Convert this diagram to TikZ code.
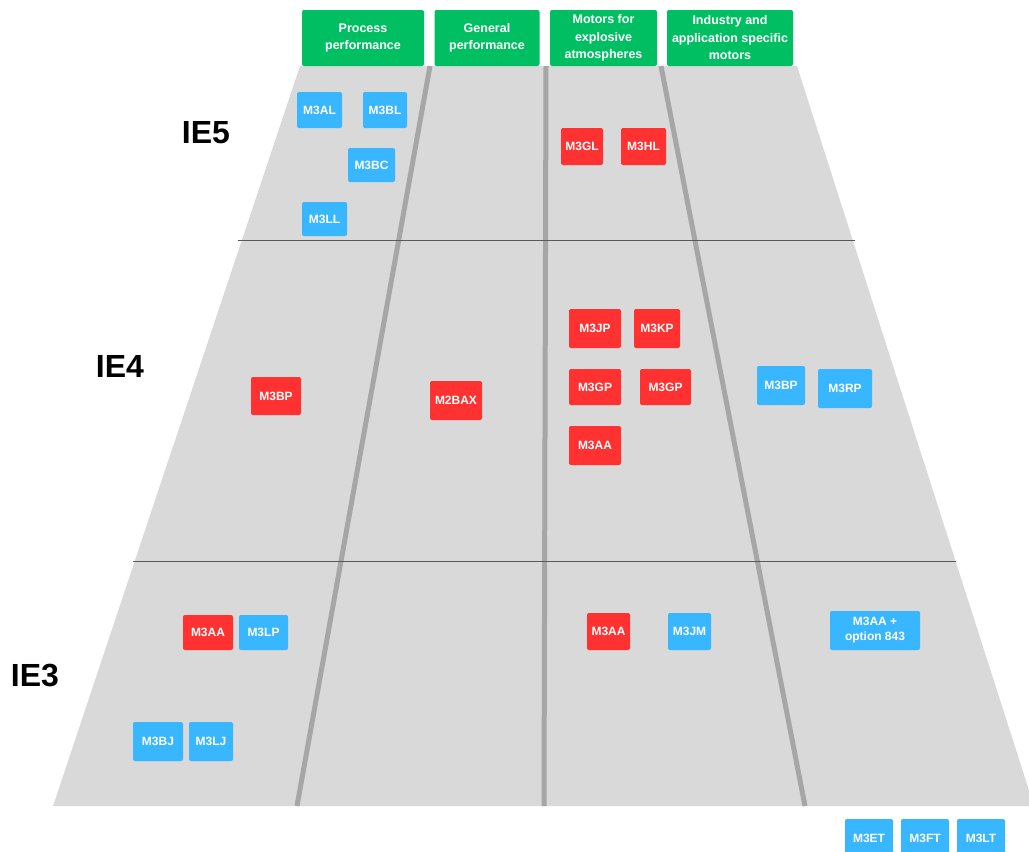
\documentclass[tikz,border=0pt]{standalone}
\usepackage{fontspec}
\setmainfont{Liberation Sans}
\definecolor{hdrgreen}{HTML}{00BF63}
\definecolor{bxblue}{HTML}{38B6FF}
\definecolor{bxred}{HTML}{FF3131}
\definecolor{bandgray}{HTML}{D9D9D9}
\definecolor{divgray}{HTML}{A6A6A6}
\definecolor{rulegray}{HTML}{595959}
\begin{document}
\begin{tikzpicture}[x=1pt,y=-1pt,
  basebox/.style={rounded corners=2pt, inner sep=1pt, text=white, font=\bfseries\fontsize{12}{15}\selectfont, align=center},
  bluebox/.style={basebox, fill=bxblue},
  redbox/.style={basebox, fill=bxred},
  hdr/.style={basebox, fill=hdrgreen, font=\bfseries\fontsize{12.5}{17.5}\selectfont},
  level/.style={font=\bfseries\fontsize{32}{36}\selectfont, text=black},
  divider/.style={draw=divgray, line width=5pt},
  band/.style={draw=rulegray, line width=0.9pt}]
\useasboundingbox (0,0) rectangle (1029,852);
\clip (0,0) rectangle (1029,852);
% trapezoid
\fill[bandgray] (300,66) -- (797,66) -- (1034,806) -- (53,806) -- cycle;
% named corner coordinates for dividers
\coordinate (d1t) at (430,66); \coordinate (d1b) at (297,806);
\coordinate (d2t) at (546,66); \coordinate (d2b) at (544,806);
\coordinate (d3t) at (661,66); \coordinate (d3b) at (805,806);
\draw[divider] (d1t) -- (d1b);
\draw[divider] (d2t) -- (d2b);
\draw[divider] (d3t) -- (d3b);
\coordinate (h1l) at (238,240); \coordinate (h1r) at (855,240);
\coordinate (h2l) at (133,561); \coordinate (h2r) at (956,561);
\draw[band] (h1l) -- (h1r);
\draw[band] (h2l) -- (h2r);
% headers
\node[hdr, minimum width=122pt, minimum height=56pt] (hp) at (363,38) {Process\\performance};
\node[hdr, minimum width=105pt, minimum height=56pt] (hg) at (487,38) {General\\performance};
\node[hdr, minimum width=107pt, minimum height=56pt] (hm) at (603.5,38) {Motors for\\explosive\\atmospheres};
\node[hdr, minimum width=126pt, minimum height=56pt] (hi) at (730,38) {Industry and\\application specific\\motors};
% level labels
\node[level] (ie5) at (206,133) {IE5};
\node[level] (ie4) at (120,366) {IE4};
\node[level] (ie3) at (35,675) {IE3};
% IE5
\node[bluebox, minimum width=45pt, minimum height=36pt] (m3al) at (319.5,110) {M3AL};
\node[bluebox, minimum width=44pt, minimum height=36pt] (m3bl) at (385,110) {M3BL};
\node[bluebox, minimum width=47pt, minimum height=34pt] (m3bc) at (371.5,165) {M3BC};
\node[bluebox, minimum width=45pt, minimum height=34pt] (m3ll) at (324.5,219) {M3LL};
\node[redbox, minimum width=42pt, minimum height=37pt] (m3gl) at (582,146.5) {M3GL};
\node[redbox, minimum width=45pt, minimum height=37pt] (m3hl) at (643.5,146.5) {M3HL};
% IE4
\node[redbox, minimum width=50pt, minimum height=38pt] (m3bpr) at (276,396) {M3BP};
\node[redbox, minimum width=52pt, minimum height=39pt] (m2bax) at (456,400.5) {M2BAX};
\node[redbox, minimum width=52pt, minimum height=39pt] (m3jp) at (595,328.5) {M3JP};
\node[redbox, minimum width=46pt, minimum height=39pt] (m3kp) at (657,328.5) {M3KP};
\node[redbox, minimum width=52pt, minimum height=36pt] (m3gpa) at (595,387) {M3GP};
\node[redbox, minimum width=51pt, minimum height=36pt] (m3gpb) at (665.5,387) {M3GP};
\node[redbox, minimum width=52pt, minimum height=39pt] (m3aa4) at (595,445.5) {M3AA};
\node[bluebox, minimum width=48pt, minimum height=39pt] (m3bpb) at (781,385.5) {M3BP};
\node[bluebox, minimum width=54pt, minimum height=39pt] (m3rp) at (845,388.5) {M3RP};
% IE3
\node[redbox, minimum width=50pt, minimum height=35pt] (m3aa3a) at (208,632.5) {M3AA};
\node[bluebox, minimum width=49pt, minimum height=35pt] (m3lp) at (263.5,632.5) {M3LP};
\node[bluebox, minimum width=50pt, minimum height=39pt] (m3bj) at (158,741.5) {M3BJ};
\node[bluebox, minimum width=44pt, minimum height=39pt] (m3lj) at (211,741.5) {M3LJ};
\node[redbox, minimum width=43pt, minimum height=37pt] (m3aa3b) at (608.5,631.5) {M3AA};
\node[bluebox, minimum width=43pt, minimum height=37pt] (m3jm) at (689.5,631.5) {M3JM};
\node[bluebox, minimum width=90pt, minimum height=39pt] (m3aaopt) at (875,630.5) {M3AA +\\option 843};
% bottom row
\node[bluebox, minimum width=48pt, minimum height=38pt] (m3et) at (869,838) {M3ET};
\node[bluebox, minimum width=48pt, minimum height=38pt] (m3ft) at (925,838) {M3FT};
\node[bluebox, minimum width=48pt, minimum height=38pt] (m3lt) at (981,838) {M3LT};
\end{tikzpicture}
\end{document}
